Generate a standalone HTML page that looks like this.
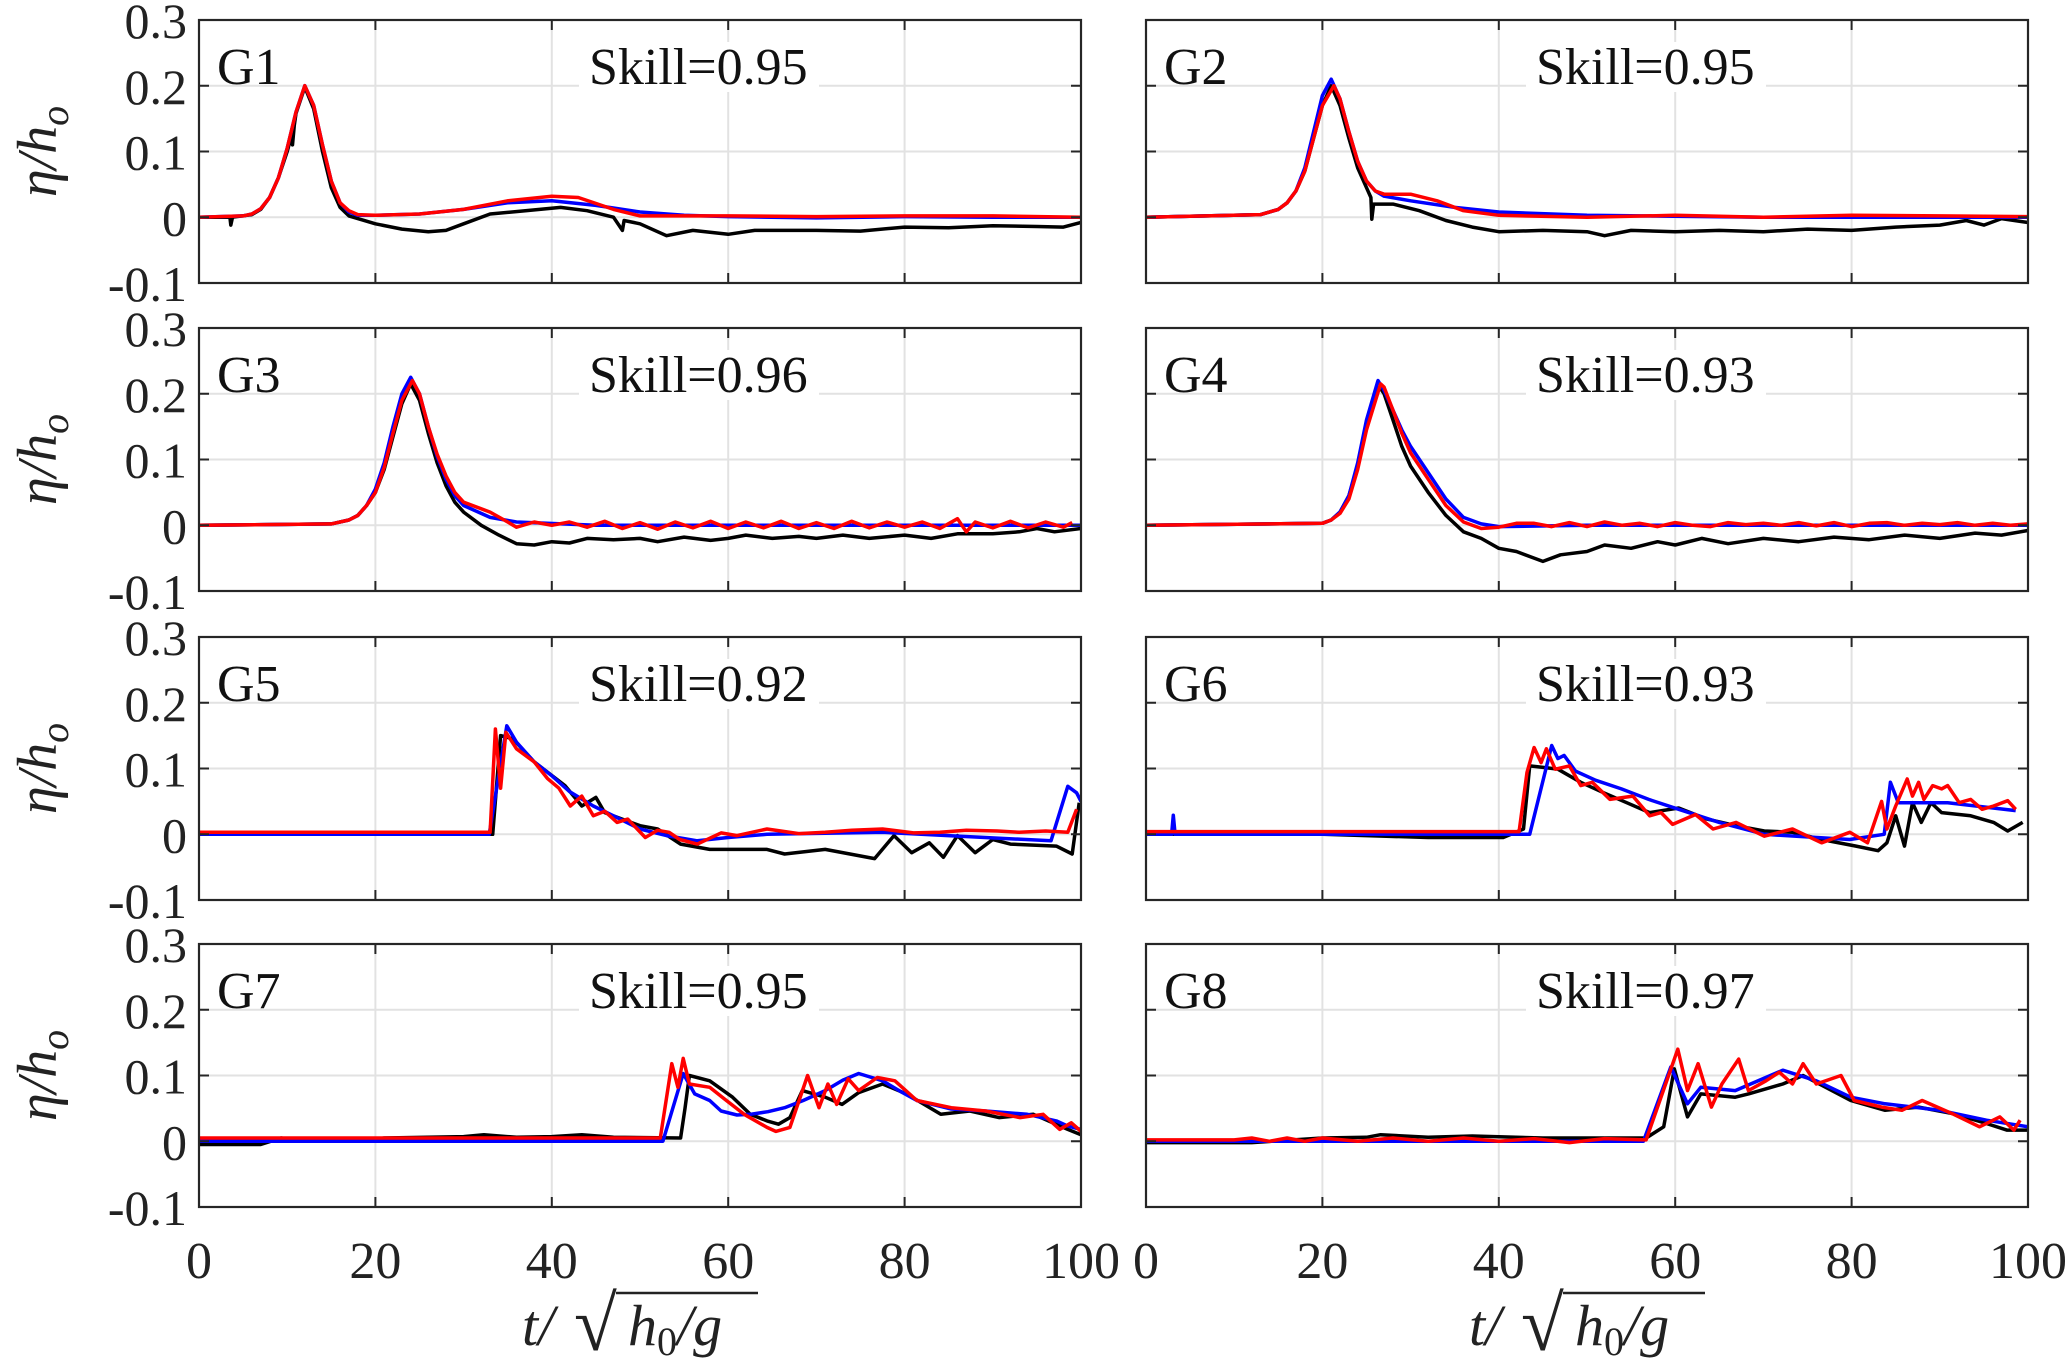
<!DOCTYPE html>
<html><head><meta charset="utf-8"><style>
html,body{margin:0;padding:0;background:#fff;}
svg{display:block;}
text{font-family:"Liberation Serif","DejaVu Serif",serif;}
</style></head><body>
<svg id="fig" width="2067" height="1368" viewBox="0 0 2067 1368" xmlns="http://www.w3.org/2000/svg" font-family="Liberation Serif, serif"></svg>
<script>
// ---- data: [t, eta/h0] pairs ----
const xTicks = [0,20,40,60,80,100];
const yTicks = [-0.1,0,0.1,0.2,0.3];
const yTickLabels = ["-0.1","0","0.1","0.2","0.3"];
const gaugeNames = ["G1","G2","G3","G4","G5","G6","G7","G8"];
const skillValues = ["0.95","0.95","0.96","0.93","0.92","0.93","0.95","0.97"];

const g1Obs = [[0,0],[3.5,0],[3.6,-0.012],[3.8,0],[6,0.004],[7,0.012],[8,0.03],[9,0.06],[10,0.1],[10.5,0.125],[10.6,0.11],[10.8,0.14],[11,0.158],[12,0.198],[13,0.165],[14,0.1],[15,0.045],[16,0.015],[17,0.002],[20,-0.01],[23,-0.018],[26,-0.022],[28,-0.02],[30,-0.01],[33,0.005],[37,0.01],[41,0.015],[44,0.01],[47,0],[48,-0.02],[48.2,-0.005],[50,-0.01],[53,-0.028],[56,-0.02],[60,-0.026],[63,-0.02],[70,-0.02],[75,-0.021],[80,-0.015],[85,-0.016],[90,-0.013],[95,-0.014],[98,-0.015],[100,-0.008]];
const g1ModA = [[0,0],[5,0.002],[6,0.005],[7,0.013],[8,0.03],[9,0.06],[10,0.105],[11,0.16],[12,0.2],[13,0.17],[14,0.11],[15,0.055],[16,0.022],[17,0.008],[18,0.003],[20,0.003],[25,0.005],[30,0.012],[35,0.022],[40,0.025],[45,0.018],[50,0.008],[55,0.003],[60,0.001],[70,-0.001],[80,0.001],[90,0],[100,0]];
const g1ModB = [[0,0],[5,0.002],[6,0.005],[7,0.013],[8,0.03],[9,0.06],[10,0.105],[11,0.16],[12,0.2],[13,0.17],[14,0.11],[15,0.055],[16,0.022],[17,0.01],[18,0.004],[20,0.003],[25,0.005],[30,0.012],[35,0.025],[40,0.032],[43,0.03],[47,0.012],[50,0.002],[60,0.002],[70,0.001],[80,0.002],[90,0.002],[100,0]];

const g2Obs = [[0,0],[13,0.004],[15,0.012],[16,0.022],[17,0.04],[18,0.07],[19,0.12],[20,0.17],[21,0.2],[22,0.17],[23,0.12],[24,0.075],[25,0.045],[25.5,0.03],[25.6,-0.003],[25.8,0.02],[28,0.02],[31,0.01],[34,-0.005],[37,-0.015],[40,-0.022],[45,-0.02],[50,-0.022],[52,-0.028],[55,-0.02],[60,-0.022],[65,-0.02],[70,-0.022],[75,-0.018],[80,-0.02],[85,-0.015],[90,-0.012],[93,-0.005],[95,-0.012],[97,-0.002],[100,-0.008]];
const g2ModA = [[0,0],[13,0.004],[15,0.012],[16,0.022],[17,0.04],[18,0.075],[19,0.13],[20,0.185],[21,0.21],[22,0.18],[23,0.13],[24,0.085],[25,0.055],[26,0.04],[27,0.032],[30,0.025],[35,0.015],[40,0.008],[50,0.003],[70,0],[100,0]];
const g2ModB = [[0,0],[13,0.004],[15,0.012],[16,0.022],[17,0.04],[18,0.07],[19,0.12],[20,0.17],[21.3,0.2],[22,0.18],[23,0.13],[24,0.085],[25,0.055],[26,0.04],[27,0.035],[30,0.035],[33,0.025],[36,0.01],[40,0.003],[50,0],[60,0.003],[70,0],[80,0.003],[90,0.002],[100,0.001]];

const g3Obs = [[0,0],[15,0.002],[17,0.008],[18,0.015],[19,0.03],[20,0.05],[21,0.085],[22,0.135],[23,0.185],[24,0.215],[25,0.19],[26,0.14],[27,0.095],[28,0.06],[29,0.035],[30,0.02],[32,0],[34,-0.015],[36,-0.028],[38,-0.03],[40,-0.025],[42,-0.027],[44,-0.02],[47,-0.022],[50,-0.02],[52,-0.025],[55,-0.018],[58,-0.023],[60,-0.02],[62,-0.015],[65,-0.02],[68,-0.017],[70,-0.02],[73,-0.015],[76,-0.02],[80,-0.015],[83,-0.02],[86,-0.013],[90,-0.013],[93,-0.01],[95,-0.005],[97,-0.01],[100,-0.005]];
const g3ModA = [[0,0],[15,0.002],[17,0.008],[18,0.015],[19,0.03],[20,0.055],[21,0.095],[22,0.15],[23,0.2],[24,0.225],[25,0.2],[26,0.15],[27,0.105],[28,0.07],[29,0.045],[30,0.03],[33,0.012],[36,0.005],[45,0],[60,0],[100,0]];
const g3ModB = [[0,0],[15,0.002],[17,0.008],[18,0.015],[19,0.03],[20,0.05],[21,0.088],[22,0.14],[23,0.19],[24.2,0.22],[25,0.2],[26,0.15],[27,0.108],[28,0.075],[29,0.05],[30,0.035],[33,0.02],[35,0.005],[36,-0.003],[38,0.005],[40,0],[42,0.005],[44,-0.003],[46,0.006],[48,-0.005],[50,0.004],[52,-0.006],[54,0.005],[56,-0.004],[58,0.006],[60,-0.005],[62,0.005],[64,-0.004],[66,0.006],[68,-0.005],[70,0.004],[72,-0.005],[74,0.006],[76,-0.004],[78,0.005],[80,-0.003],[82,0.005],[84,-0.005],[86,0.01],[87,-0.01],[88,0.005],[90,-0.004],[92,0.006],[94,-0.004],[96,0.005],[98,-0.003],[99,0.004]];

const g4Obs = [[0,0],[20,0.003],[21,0.008],[22,0.02],[23,0.045],[24,0.09],[25,0.15],[26,0.205],[26.5,0.21],[27,0.2],[28,0.16],[29,0.12],[30,0.09],[32,0.05],[34,0.015],[36,-0.01],[38,-0.02],[40,-0.035],[42,-0.04],[44,-0.05],[45,-0.055],[47,-0.045],[50,-0.04],[52,-0.03],[55,-0.035],[58,-0.025],[60,-0.03],[63,-0.02],[66,-0.028],[70,-0.02],[74,-0.025],[78,-0.018],[82,-0.022],[86,-0.015],[90,-0.02],[94,-0.012],[97,-0.015],[100,-0.008]];
const g4ModA = [[0,0],[20,0.003],[21,0.008],[22,0.02],[23,0.045],[24,0.095],[25,0.16],[26.3,0.22],[27,0.205],[28,0.175],[29,0.145],[30,0.12],[32,0.08],[34,0.04],[36,0.012],[38,0.002],[40,-0.002],[50,0],[100,0]];
const g4ModB = [[0,0],[20,0.003],[21,0.008],[22,0.018],[23,0.04],[24,0.085],[25,0.145],[26.6,0.215],[27,0.21],[28,0.175],[29,0.14],[30,0.11],[32,0.07],[34,0.03],[36,0.005],[38,-0.005],[40,-0.003],[42,0.003],[44,0.003],[46,-0.002],[48,0.004],[50,-0.002],[52,0.005],[54,0],[56,0.003],[58,-0.002],[60,0.004],[62,0],[64,-0.002],[66,0.004],[68,0.001],[70,0.003],[72,0],[74,0.004],[76,-0.001],[78,0.004],[80,-0.002],[82,0.003],[84,0.004],[86,0],[88,0.003],[90,0.001],[92,0.004],[94,0],[96,0.003],[98,0],[100,0.002]];

const g5Obs = [[0,0],[33.3,0],[34.2,0.15],[35.6,0.145],[38,0.11],[41.5,0.074],[43.4,0.043],[45,0.056],[46,0.033],[50,0.013],[52,0.008],[54.6,-0.015],[57.9,-0.023],[64.4,-0.023],[66.4,-0.03],[71,-0.023],[76.6,-0.037],[78.8,-0.002],[80.8,-0.028],[82.8,-0.013],[84.4,-0.035],[86,-0.002],[88,-0.028],[90,-0.008],[92,-0.015],[97.2,-0.018],[99,-0.03],[99.8,0.048]];
const g5ModA = [[0,0],[32.9,0],[34.9,0.165],[36,0.14],[38,0.11],[40,0.089],[42,0.065],[44.7,0.043],[47,0.028],[50,0.008],[53,-0.002],[56.5,-0.01],[60,-0.005],[64.4,0],[77.5,0.003],[96.6,-0.01],[98.5,0.073],[99.5,0.063],[100,0.05]];
const g5ModB = [[0,0.003],[33,0.003],[33.6,0.16],[34.2,0.07],[34.8,0.155],[36,0.13],[38,0.11],[39.5,0.085],[40.8,0.07],[42.1,0.043],[43.4,0.058],[44.7,0.028],[46,0.035],[47.4,0.018],[48.6,0.023],[50.6,-0.005],[52,0.006],[53.3,0.003],[54.5,-0.008],[56.5,-0.015],[59.2,0.002],[61,-0.002],[64.4,0.008],[68,0.001],[71,0.003],[74,0.006],[77.5,0.008],[81,0.002],[84,0.003],[87,0.006],[90.5,0.005],[93,0.003],[96,0.005],[98.5,0.003],[99.5,0.038]];

const g6Obs = [[0,0],[20,0],[32,-0.005],[40.5,-0.005],[42.8,0.008],[43.5,0.104],[45.4,0.101],[46.7,0.099],[49.3,0.079],[51.9,0.063],[54.5,0.048],[57.1,0.033],[60.4,0.04],[63.6,0.023],[66.9,0.013],[70.1,0.005],[73.3,0.003],[76.6,-0.008],[80.5,-0.018],[83,-0.025],[84,-0.013],[85,0.028],[86,-0.018],[86.9,0.048],[87.9,0.018],[89,0.048],[90.2,0.033],[93.5,0.028],[96.1,0.018],[97.7,0.005],[99.4,0.018]];
const g6ModA = [[0,0],[2.9,0],[3.1,0.029],[3.3,0],[43.5,0],[46,0.135],[46.7,0.115],[47.4,0.12],[48.7,0.096],[51,0.082],[53.9,0.069],[57,0.053],[60.4,0.038],[65,0.018],[70.1,0],[79.8,-0.008],[83.7,0],[84.4,0.079],[85.3,0.048],[90.9,0.048],[98.6,0.036]];
const g6ModB = [[0,0.004],[42.3,0.004],[43.2,0.094],[44,0.132],[44.8,0.109],[45.4,0.13],[46.4,0.099],[48,0.104],[49.3,0.074],[50.6,0.079],[52.6,0.053],[55.2,0.058],[57.1,0.028],[58.4,0.033],[59.7,0.015],[62.3,0.03],[64.3,0.008],[66.9,0.018],[70.1,-0.003],[73.3,0.008],[76.6,-0.013],[79.8,0.003],[81.8,-0.013],[83.4,0.05],[84,0.008],[85,0.043],[86.3,0.084],[86.9,0.058],[87.6,0.079],[88.2,0.053],[89.2,0.074],[90.2,0.069],[90.9,0.074],[92.2,0.048],[93.5,0.053],[94.8,0.038],[96.1,0.043],[97.7,0.051],[98.6,0.038]];

const g7Obs = [[0,-0.005],[7,-0.005],[9.3,0.005],[12,0],[18,0],[21,0.005],[30,0.007],[32.3,0.01],[36,0.006],[40,0.007],[43.4,0.01],[47,0.006],[54.6,0.005],[55.1,0.05],[55.6,0.1],[57.9,0.092],[60.5,0.067],[62.5,0.041],[64.4,0.031],[65.7,0.026],[67,0.036],[68.4,0.077],[71,0.067],[72.9,0.056],[74.8,0.074],[77.5,0.087],[80.2,0.072],[84.1,0.041],[87.4,0.046],[90.7,0.036],[94.6,0.041],[98.5,0.018],[100,0.01]];
const g7ModA = [[0,0],[52.6,0],[54.9,0.103],[56.2,0.072],[57.9,0.062],[59.2,0.046],[61,0.04],[62.5,0.041],[64.5,0.045],[66.4,0.051],[68.5,0.062],[71,0.077],[73,0.093],[74.8,0.103],[77.5,0.092],[79.5,0.076],[81.4,0.062],[85.3,0.049],[89.2,0.046],[93.9,0.041],[97.2,0.031],[98.5,0.023],[100,0.018]];
const g7ModB = [[0,0.005],[52.3,0.005],[53.6,0.118],[54.3,0.082],[54.9,0.126],[55.6,0.087],[57.9,0.082],[59.8,0.062],[61.8,0.041],[64.4,0.021],[65.4,0.015],[67,0.021],[69,0.1],[70.3,0.051],[71.3,0.087],[72.3,0.056],[73.6,0.095],[74.8,0.077],[76.9,0.097],[78.9,0.092],[81.4,0.062],[85.3,0.051],[89.2,0.046],[93.1,0.036],[95.7,0.041],[97.6,0.018],[98.9,0.028],[100,0.015]];

const g8Obs = [[0,-0.002],[12,-0.002],[20,0.005],[25,0.006],[26.6,0.01],[32,0.006],[37,0.008],[45,0.005],[56.7,0.005],[58.7,0.022],[59.9,0.11],[61.4,0.037],[62.9,0.072],[66.8,0.067],[68.3,0.072],[72.2,0.087],[74.5,0.1],[79.9,0.062],[83.8,0.047],[87.6,0.052],[91.5,0.042],[95.3,0.027],[97.6,0.017],[100,0.017]];
const g8ModA = [[0,0],[56.4,0],[59.5,0.113],[61.4,0.057],[62.9,0.082],[66.8,0.077],[72.2,0.108],[76,0.092],[79.9,0.067],[83.8,0.057],[90,0.047],[95.3,0.032],[100,0.022]];
const g8ModB = [[0,0.002],[10,0.002],[12,0.005],[14,0],[16,0.005],[18,0],[20,0.005],[24,0],[28,0.005],[32,0],[36,0.005],[40,0],[44,0.004],[48,-0.002],[52,0.004],[56.7,0.002],[60.3,0.14],[61.4,0.077],[62.6,0.118],[64.1,0.052],[65.3,0.087],[67.2,0.125],[68.3,0.077],[70.3,0.092],[71.8,0.105],[73.3,0.087],[74.5,0.118],[76,0.087],[78.8,0.1],[80.3,0.062],[83.4,0.052],[85.7,0.047],[88,0.062],[91.4,0.042],[94.5,0.022],[96.8,0.037],[98.4,0.017],[99.1,0.032]];

const obsSeries = [g1Obs,g2Obs,g3Obs,g4Obs,g5Obs,g6Obs,g7Obs,g8Obs];
const modASeries = [g1ModA,g2ModA,g3ModA,g4ModA,g5ModA,g6ModA,g7ModA,g8ModA];
const modBSeries = [g1ModB,g2ModB,g3ModB,g4ModB,g5ModB,g6ModB,g7ModB,g8ModB];

// ---- layout ----
const NS = "http://www.w3.org/2000/svg";
const FONT = "Liberation Serif, DejaVu Serif, serif";
const svg = document.getElementById('fig');
const colX = [199, 1146];
const panelW = 882;
const rowY = [20, 328, 637, 944];
const panelH = 263;
const xMin = 0, xMax = 100, yMin = -0.1, yMax = 0.3;

function mk(tag, attrs, parent) {
  const e = document.createElementNS(NS, tag);
  for (const k in attrs) e.setAttribute(k, attrs[k]);
  if (tag === 'text') e.setAttribute('font-family', FONT);
  (parent || svg).appendChild(e);
  return e;
}

for (let i = 0; i < 8; i++) {
  const col = i % 2, row = Math.floor(i / 2);
  const px = colX[col], py = rowY[row];
  const sx = t => px + (t - xMin) / (xMax - xMin) * panelW;
  const sy = v => py + (yMax - v) / (yMax - yMin) * panelH;
  const g = mk('g', {});
  
  

  xTicks.forEach(t => {
    if (t > xMin && t < xMax) {
      const l = mk('line', {x1: sx(t), x2: sx(t), y1: py, y2: py + panelH, stroke: '#e2e2e2', 'stroke-width': 2}, g);
      
      
    }
  });
  yTicks.forEach(v => {
    if (v > yMin && v < yMax) {
      const l = mk('line', {x1: px, x2: px + panelW, y1: sy(v), y2: sy(v), stroke: '#e2e2e2', 'stroke-width': 2}, g);
      
      
    }
  });

  const clipId = 'clip' + i;
  const cp = mk('clipPath', {id: clipId}, g);
  mk('rect', {x: px, y: py, width: panelW, height: panelH}, cp);
  const drawSeries = (data, color, name) => {
    const d = data.map((p, k) => (k ? 'L' : 'M') + sx(p[0]).toFixed(1) + ' ' + sy(p[1]).toFixed(1)).join(' ');
    const path = mk('path', {d: d, fill: 'none', stroke: color, 'stroke-width': 3.5, 'stroke-linejoin': 'round', 'clip-path': 'url(#' + clipId + ')'}, g);
    
    
  };
  drawSeries(obsSeries[i], '#000000', 'observed-line');
  drawSeries(modASeries[i], '#0000ff', 'model-a-line');
  drawSeries(modBSeries[i], '#ff0000', 'model-b-line');

  const skillBg = mk('rect', {x: px + 380, y: py + 22, width: 240, height: 50, fill: '#fff'}, g);
  
  
  const gl = mk('text', {x: px + 18, y: py + 64, 'font-size': 52, fill: '#111'}, g);
  gl.textContent = gaugeNames[i];
  
  
  const sk = mk('text', {x: px + 390, y: py + 64, 'font-size': 52, fill: '#111'}, g);
  sk.textContent = 'Skill=' + skillValues[i];
  
  

  const box = mk('rect', {x: px, y: py, width: panelW, height: panelH, fill: 'none', stroke: '#262626', 'stroke-width': 2.2}, g);
  
  
  xTicks.forEach(t => {
    mk('line', {x1: sx(t), x2: sx(t), y1: py + panelH, y2: py + panelH - 10, stroke: '#262626', 'stroke-width': 2}, g);
    mk('line', {x1: sx(t), x2: sx(t), y1: py, y2: py + 10, stroke: '#262626', 'stroke-width': 2}, g);
  });
  yTicks.forEach(v => {
    mk('line', {x1: px, x2: px + 10, y1: sy(v), y2: sy(v), stroke: '#262626', 'stroke-width': 2}, g);
    mk('line', {x1: px + panelW, x2: px + panelW - 10, y1: sy(v), y2: sy(v), stroke: '#262626', 'stroke-width': 2}, g);
  });

  if (col === 0) {
    yTicks.forEach((v, k) => {
      const tl = mk('text', {x: px - 12, y: sy(v) + 18, 'font-size': 50, 'text-anchor': 'end', fill: '#222'}, g);
      tl.textContent = yTickLabels[k];
      
      
    });
    const cy = py + panelH / 2;
    const yl = mk('text', {x: 0, y: 0, 'font-size': 56, 'font-style': 'italic', 'text-anchor': 'middle', fill: '#222', transform: 'translate(56,' + cy + ') rotate(-90)'}, g);
    yl.innerHTML = 'η/h<tspan font-size="40" dy="12">o</tspan>';
    
    
  }
  if (row === 3) {
    xTicks.forEach(t => {
      const tl = mk('text', {x: sx(t), y: py + panelH + 71, 'font-size': 52, 'text-anchor': 'middle', fill: '#222'}, g);
      tl.textContent = String(t);
      
      
    });
    const cx = px + panelW / 2;
    const xl = mk('g', {}, g);
    
    
    const t1 = mk('text', {x: cx - 118, y: 1345, 'font-size': 58, 'font-style': 'italic', fill: '#222'}, xl);
    t1.textContent = 't/';
    const t2 = mk('text', {x: cx - 66, y: 1350, 'font-size': 78, fill: '#222'}, xl);
    t2.textContent = '√';
    const t3 = mk('text', {x: cx - 12, y: 1345, 'font-size': 58, 'font-style': 'italic', fill: '#222'}, xl);
    t3.innerHTML = 'h<tspan font-size="40" font-style="normal" dy="10">0</tspan><tspan dy="-10">/g</tspan>';
    mk('line', {x1: cx - 24, x2: cx + 118, y1: 1293, y2: 1293, stroke: '#222', 'stroke-width': 2.5}, xl);
  }
}
</script>
</body></html>
